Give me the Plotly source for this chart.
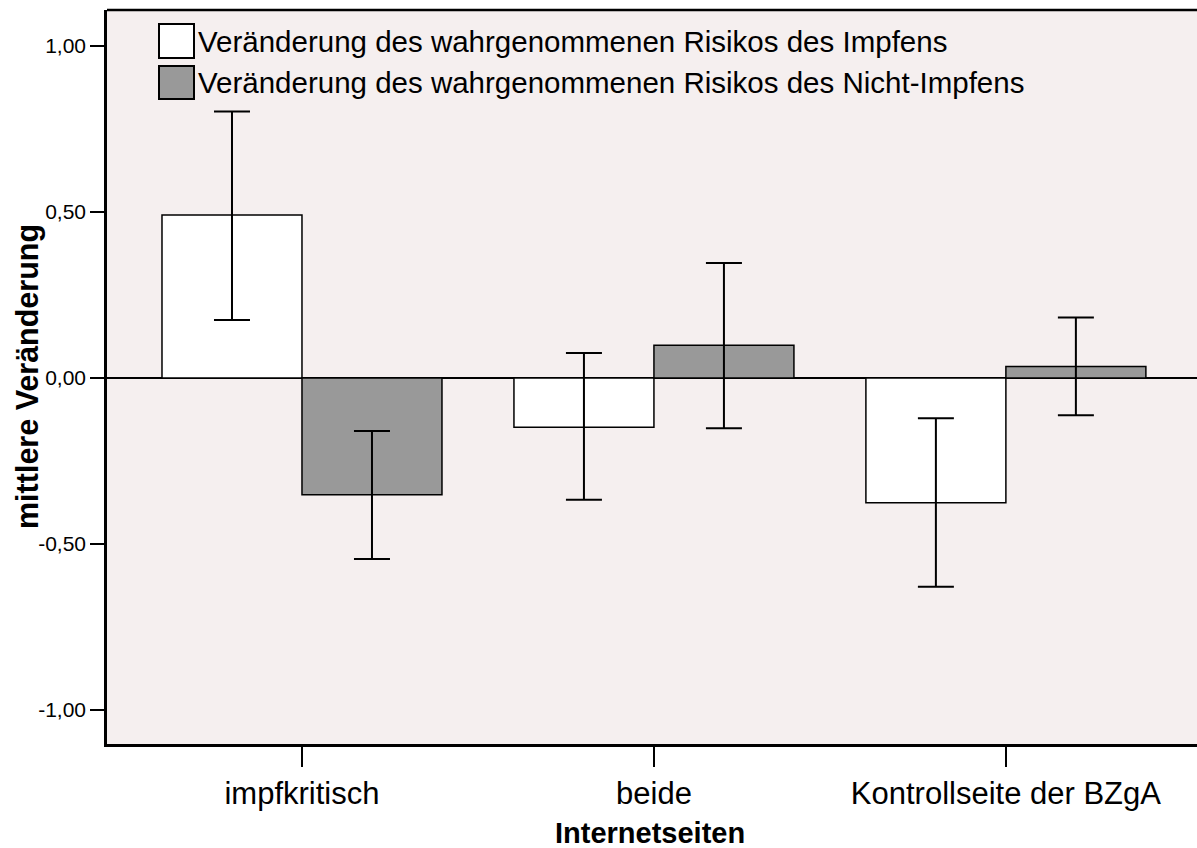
import plotly.graph_objects as go

categories = ["impfkritisch", "beide", "Kontrollseite der BZgA"]
series_names = [
    "Veränderung des wahrgenommenen Risikos des Impfens",
    "Veränderung des wahrgenommenen Risikos des Nicht-Impfens",
]
impfen_mean = [0.491, -0.148, -0.376]
impfen_upper = [0.803, 0.075, -0.121]
impfen_lower = [0.175, -0.367, -0.629]
nicht_mean = [-0.352, 0.099, 0.035]
nicht_upper = [-0.160, 0.346, 0.182]
nicht_lower = [-0.545, -0.151, -0.112]
ytick_vals = [-1.0, -0.5, 0.0, 0.5, 1.0]
ytick_text = ["-1,00", "-0,50", "0,00", "0,50", "1,00"]

FONT = "Liberation Sans, Arial, Helvetica, sans-serif"
colors = ["#FFFFFF", "#999999"]

fig = go.Figure()
for name, mean, up, lo, col in [
    (series_names[0], impfen_mean, impfen_upper, impfen_lower, colors[0]),
    (series_names[1], nicht_mean, nicht_upper, nicht_lower, colors[1]),
]:
    fig.add_trace(go.Bar(
        x=categories, y=mean, name=name,
        marker=dict(color=col, line=dict(color="black", width=1.5)),
        error_y=dict(type="data", symmetric=False,
                     array=[u - m for u, m in zip(up, mean)],
                     arrayminus=[m - l for m, l in zip(mean, lo)],
                     color="black", thickness=2, width=18),
        showlegend=False,
    ))

W, H = 1197, 848
ml, mr, mt, mb = 107, 0, 10, 104
pw, ph = W - ml - mr, H - mt - mb

def px(x):
    return (x - ml) / pw

def py(y):
    return (H - mb - y) / ph

shapes = [
    dict(type="line", xref="paper", yref="paper", x0=0, x1=1, y0=1, y1=1,
         line=dict(color="black", width=2.5)),
    dict(type="rect", xref="paper", yref="paper", x0=px(159), x1=px(194),
         y0=py(58), y1=py(24), fillcolor=colors[0], line=dict(color="black", width=2)),
    dict(type="rect", xref="paper", yref="paper", x0=px(159), x1=px(194),
         y0=py(99), y1=py(66), fillcolor=colors[1], line=dict(color="black", width=2)),
]
annotations = [
    dict(text=series_names[0], xref="paper", yref="paper", x=px(196), y=py(41),
         xanchor="left", yanchor="middle", showarrow=False,
         font=dict(family=FONT, size=29.5, color="black")),
    dict(text=series_names[1], xref="paper", yref="paper", x=px(196), y=py(82.5),
         xanchor="left", yanchor="middle", showarrow=False,
         font=dict(family=FONT, size=29.5, color="black")),
    dict(text="<b>mittlere Veränderung</b>", xref="paper", yref="paper", x=0, y=0.5,
         xshift=-(ml - 27), xanchor="center", yanchor="middle", textangle=-90,
         showarrow=False, font=dict(family=FONT, size=30.5, color="black")),
    dict(text="<b>Internetseiten</b>", xref="paper", yref="paper", x=px(650), y=0,
         yshift=-89, xanchor="center", yanchor="middle",
         showarrow=False, font=dict(family=FONT, size=29, color="black")),
]

fig.update_layout(
    width=W, height=H,
    margin=dict(l=ml, r=mr, t=mt, b=mb, autoexpand=False),
    paper_bgcolor="white", plot_bgcolor="#F5EFEF",
    barmode="group", bargap=0.2045, bargroupgap=0,
    font=dict(family=FONT, color="black"),
    shapes=shapes, annotations=annotations,
    showlegend=False,
)
fig.update_xaxes(
    range=[-0.554, 2.543], showgrid=False, zeroline=False,
    showline=True, linecolor="black", linewidth=2.5,
    ticks="outside", ticklen=20, tickwidth=2, tickcolor="black",
    tickfont=dict(family=FONT, size=31, color="black"),
    automargin=False,
)
fig.update_yaxes(
    range=[-1.1024, 1.1084], showgrid=False,
    zeroline=True, zerolinecolor="black", zerolinewidth=2,
    showline=True, linecolor="black", linewidth=2.5,
    ticks="outside", ticklen=14, tickwidth=2, tickcolor="black",
    tickvals=ytick_vals, ticktext=ytick_text,
    tickfont=dict(family=FONT, size=21, color="black"),
    automargin=False,
)

fig.write_html("out.html", config={"displayModeBar": False},
               post_script="document.body.style.margin='0';document.body.style.overflow='hidden';")
